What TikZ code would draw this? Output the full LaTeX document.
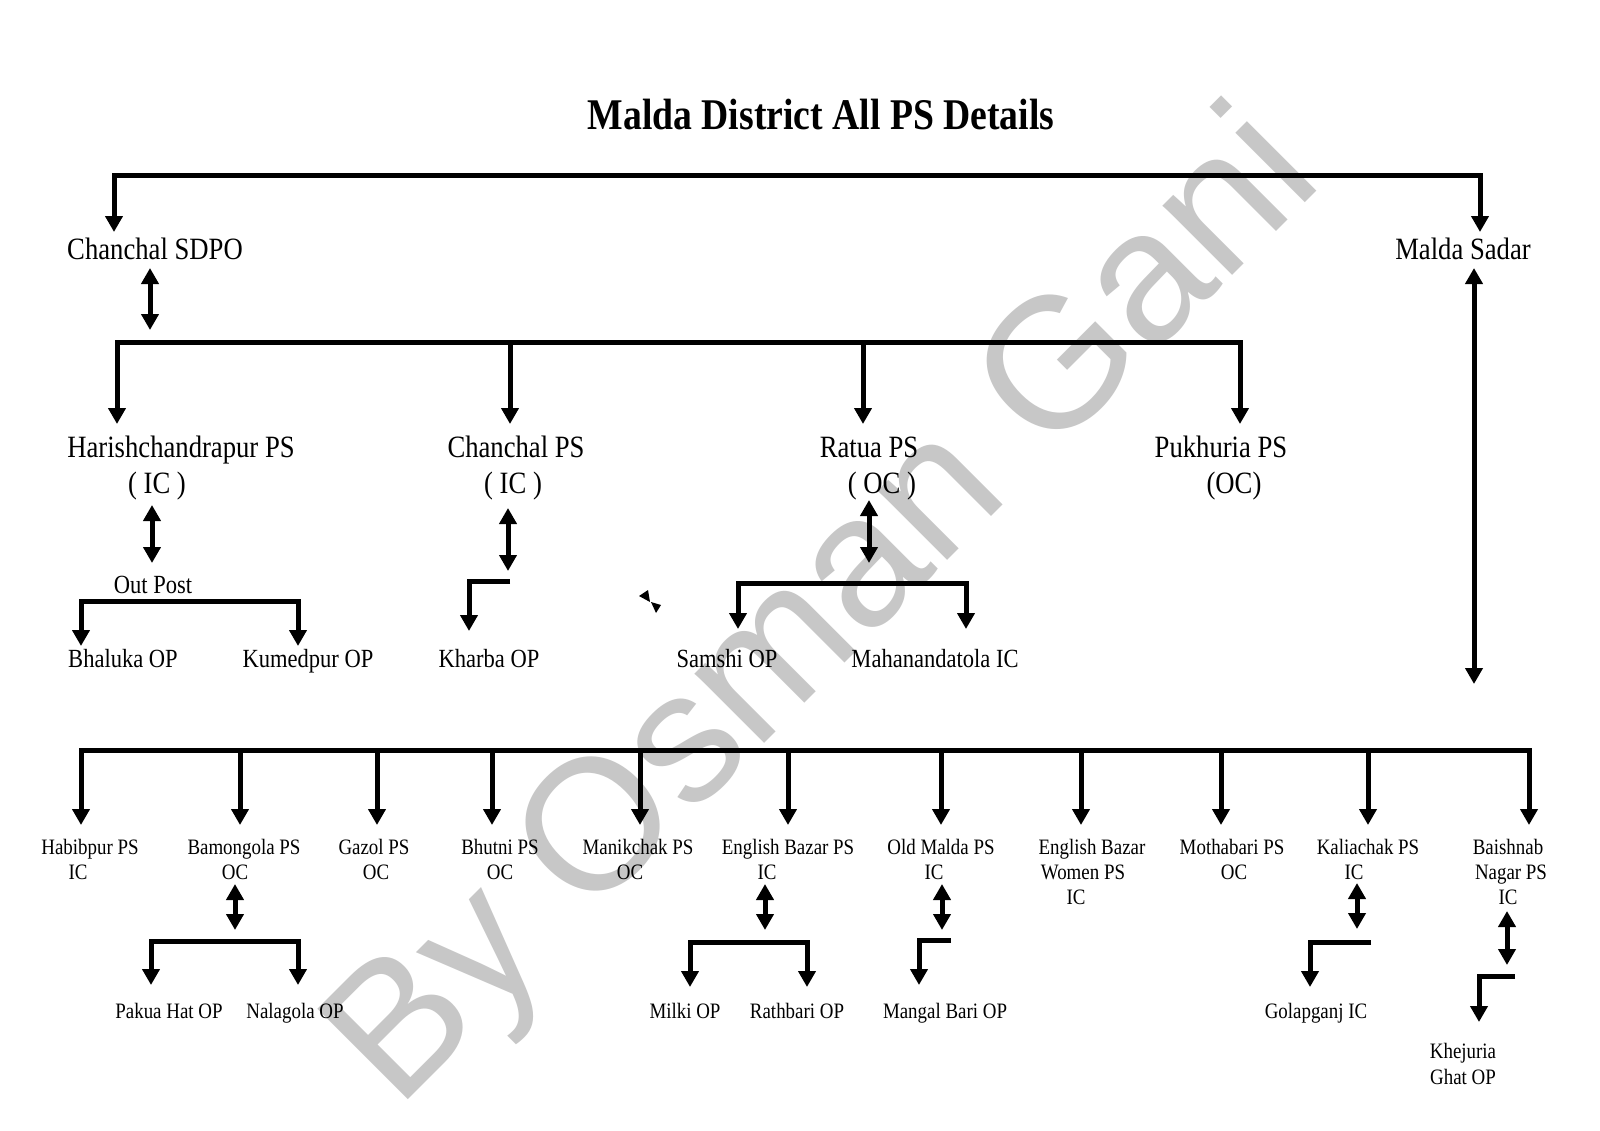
\documentclass[tikz,border=0pt]{standalone}
\usepackage{fontspec}
\setmainfont{Liberation Serif}[FakeStretch=0.86]
\newfontfamily\wmfont{Liberation Sans}
\usetikzlibrary{arrows.meta}

\tikzset{
  wire/.style={line width=2.5pt},
  link/.style={wire,-{Triangle[width=8.5pt,length=8pt]}},
  twoway/.style={wire,{Triangle[width=8.5pt,length=8pt]}-{Triangle[width=8.5pt,length=8pt]}},
  lbl/.style={inner sep=0pt,anchor=base},
  big/.style={lbl,font=\fontsize{15.5}{18}\selectfont},
  mid/.style={lbl,font=\fontsize{13.1}{15}\selectfont},
  small/.style={lbl,font=\fontsize{11}{12.5}\selectfont},
  wmark/.style={inner sep=0pt,text=black!22,font=\wmfont\fontsize{93}{93}\selectfont}
}

\begin{document}
\begin{tikzpicture}[x=0.5pt,y=-0.5pt]
  \useasboundingbox[fill=white] (0,0) rectangle (1600,1130);
  % watermark, behind everything
  \node[wmark,rotate=45] (wm) at (828,612) {By Osman Gani};

  \node[lbl,font=\fontsize{21.9}{24}\selectfont\bfseries] (title) at (821,129) {Malda District All PS Details};

  % --- SDPO level
  \node[big] (sdpo) at (155,259) {Chanchal SDPO};
  \node[big] (sadar) at (1463,259) {Malda Sadar};
  \coordinate (top) at (797,175);
  \coordinate (sdpo-in) at (114,232);
  \coordinate (sadar-in) at (1480,232);
  \draw[twoway] (sdpo-in) |- (top) -| (sadar-in);

  % --- Chanchal SDPO police stations
  \coordinate (sdpo-a) at (150,268);
  \coordinate (sdpo-b) at (150,330);
  \draw[twoway] (sdpo-a) -- (sdpo-b);
  \coordinate (bus2) at (680,342);
  \coordinate (harish-in) at (117,424);
  \coordinate (chanchal-in) at (510,424);
  \coordinate (ratua-in) at (863,424);
  \coordinate (pukhuria-in) at (1240,424);
  \draw[twoway] (harish-in) |- (bus2) -| (pukhuria-in);
  \draw[link] (bus2 -| chanchal-in) -- (chanchal-in);
  \draw[link] (bus2 -| ratua-in) -- (ratua-in);

  \node[big] (harish) at (181,457) {Harishchandrapur PS};
  \node[big] (harishR) at (157,493) {( IC )};
  \node[big] (chanchal) at (516,457) {Chanchal PS};
  \node[big] (chanchalR) at (513,493) {( IC )};
  \node[big] (ratua) at (869,457) {Ratua PS};
  \node[big] (ratuaR) at (882,493) {( OC )};
  \node[big] (pukhuria) at (1221,457) {Pukhuria PS};
  \node[big] (pukhuriaR) at (1234,493) {(OC)};

  % --- out posts under Chanchal SDPO
  \coordinate (harish-a) at (152,505);
  \coordinate (harish-b) at (152,563);
  \draw[twoway] (harish-a) -- (harish-b);
  \node[mid] (outpost) at (153,593) {Out Post};
  \coordinate (bhaluka-in) at (81,646);
  \coordinate (kumedpur-in) at (298,646);
  \draw[twoway] (bhaluka-in) |- (190,601) -| (kumedpur-in);
  \node[mid] (bhaluka) at (123,667) {Bhaluka OP};
  \node[mid] (kumedpur) at (308,667) {Kumedpur OP};

  \coordinate (chanchal-a) at (508,508);
  \coordinate (chanchal-b) at (508,571);
  \draw[twoway] (chanchal-a) -- (chanchal-b);
  \coordinate (kharba-from) at (510,581);
  \coordinate (kharba-in) at (469,631);
  \draw[link] (kharba-from) -| (kharba-in);
  \node[mid] (kharba) at (489,667) {Kharba OP};

  \coordinate (ratua-a) at (869,500);
  \coordinate (ratua-b) at (869,563);
  \draw[twoway] (ratua-a) -- (ratua-b);
  \coordinate (samshi-in) at (738,629);
  \coordinate (maha-in) at (966,629);
  \draw[twoway] (samshi-in) |- (850,583) -| (maha-in);
  \node[mid] (samshi) at (727,667) {Samshi OP};
  \node[mid] (maha) at (935,667) {Mahanandatola IC};

  % stray tips
  \fill (639,596) -- (648,590) -- (650,602) -- cycle;
  \fill (651,602) -- (661,605) -- (656,613) -- cycle;

  % --- Malda Sadar police stations
  \coordinate (sadar-a) at (1474,268);
  \coordinate (sadar-b) at (1474,684);
  \draw[twoway] (sadar-a) -- (sadar-b);
  \coordinate (bus4) at (800,750);
  \coordinate (habibpur-in) at (81,825);
  \coordinate (baishnab-in) at (1529,825);
  \draw[twoway] (habibpur-in) |- (bus4) -| (baishnab-in);
  \foreach \x/\n in {240/bamongola,377/gazol,492/bhutni,640/manikchak,788/ebazar,
                     941/oldmalda,1081/ebwomen,1221/mothabari,1368/kaliachak}{
    \coordinate (\n-in) at (\x,825);
    \draw[link] (bus4 -| \n-in) -- (\n-in);
  }

  \node[small] (habibpur) at (90,854) {Habibpur PS};
  \node[small] (habibpurR) at (78,879) {IC};
  \node[small] (bamongola) at (244,854) {Bamongola PS};
  \node[small] (bamongolaR) at (235,879) {OC};
  \node[small] (gazol) at (374,854) {Gazol PS};
  \node[small] (gazolR) at (376,879) {OC};
  \node[small] (bhutni) at (500,854) {Bhutni PS};
  \node[small] (bhutniR) at (500,879) {OC};
  \node[small] (manikchak) at (638,854) {Manikchak PS};
  \node[small] (manikchakR) at (630,879) {OC};
  \node[small] (ebazar) at (788,854) {English Bazar PS};
  \node[small] (ebazarR) at (767,879) {IC};
  \node[small] (oldmalda) at (941,854) {Old Malda PS};
  \node[small] (oldmaldaR) at (934,879) {IC};
  \node[small] (ebwomen) at (1092,854) {English Bazar};
  \node[small] (ebwomen2) at (1083,879) {Women PS};
  \node[small] (ebwomenR) at (1076,904) {IC};
  \node[small] (mothabari) at (1232,854) {Mothabari PS};
  \node[small] (mothabariR) at (1234,879) {OC};
  \node[small] (kaliachak) at (1368,854) {Kaliachak PS};
  \node[small] (kaliachakR) at (1354,879) {IC};
  \node[small] (baishnab) at (1508,854) {Baishnab};
  \node[small] (baishnab2) at (1511,879) {Nagar PS};
  \node[small] (baishnabR) at (1508,904) {IC};

  % --- out posts under Malda Sadar
  \coordinate (bamongola-a) at (235,884);
  \coordinate (bamongola-b) at (235,930);
  \draw[twoway] (bamongola-a) -- (bamongola-b);
  \coordinate (pakua-in) at (151,985);
  \coordinate (nalagola-in) at (298,985);
  \draw[twoway] (pakua-in) |- (235,941) -| (nalagola-in);
  \node[small] (pakua) at (169,1018) {Pakua Hat OP};
  \node[small] (nalagola) at (295,1018) {Nalagola OP};

  \coordinate (ebazar-a) at (765,884);
  \coordinate (ebazar-b) at (765,930);
  \draw[twoway] (ebazar-a) -- (ebazar-b);
  \coordinate (milki-in) at (690,987);
  \coordinate (rathbari-in) at (807,987);
  \draw[twoway] (milki-in) |- (765,942) -| (rathbari-in);
  \node[small] (milki) at (685,1018) {Milki OP};
  \node[small] (rathbari) at (797,1018) {Rathbari OP};

  \coordinate (oldmalda-a) at (942,884);
  \coordinate (oldmalda-b) at (942,930);
  \draw[twoway] (oldmalda-a) -- (oldmalda-b);
  \coordinate (mangal-from) at (951,940);
  \coordinate (mangal-in) at (919,985);
  \draw[link] (mangal-from) -| (mangal-in);
  \node[small] (mangal) at (945,1018) {Mangal Bari OP};

  \coordinate (kaliachak-a) at (1357,883);
  \coordinate (kaliachak-b) at (1357,929);
  \draw[twoway] (kaliachak-a) -- (kaliachak-b);
  \coordinate (golap-from) at (1371,942);
  \coordinate (golap-in) at (1310,987);
  \draw[link] (golap-from) -| (golap-in);
  \node[small] (golap) at (1316,1018) {Golapganj IC};

  \coordinate (baishnab-a) at (1507,911);
  \coordinate (baishnab-b) at (1507,965);
  \draw[twoway] (baishnab-a) -- (baishnab-b);
  \coordinate (khejuria-from) at (1515,976);
  \coordinate (khejuria-in) at (1479,1022);
  \draw[link] (khejuria-from) -| (khejuria-in);
  \node[small] (khejuria) at (1463,1058) {Khejuria};
  \node[small] (khejuria2) at (1463,1084) {Ghat OP};
\end{tikzpicture}
\end{document}
